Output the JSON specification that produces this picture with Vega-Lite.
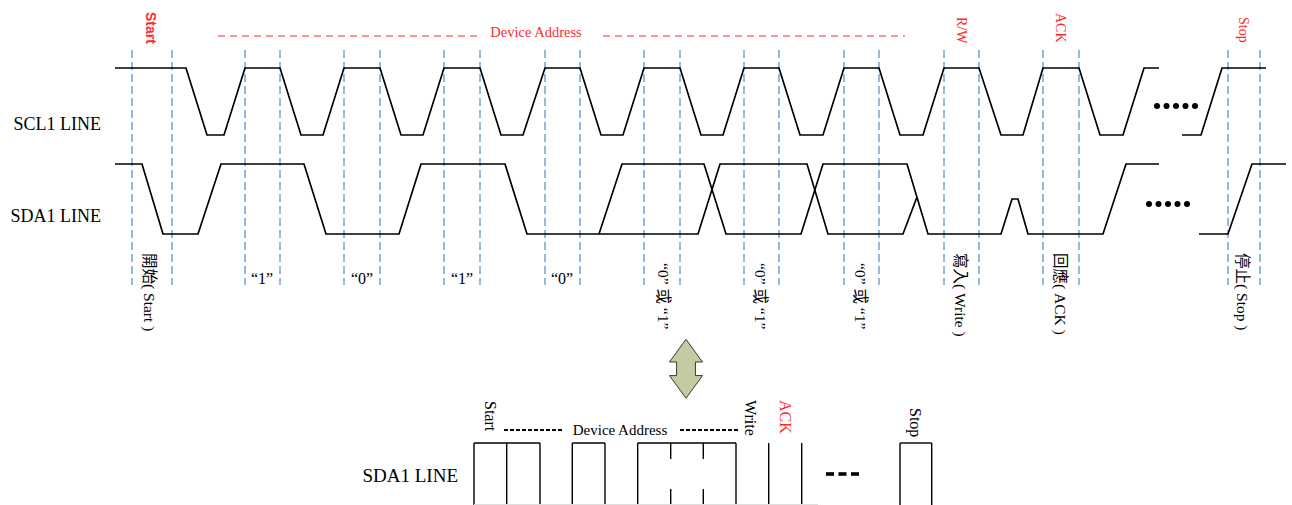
{
  "$schema": "https://vega.github.io/schema/vega-lite/v6.json",
  "width": 1292,
  "height": 505,
  "padding": 0,
  "autosize": {"type": "none"},
  "config": {"view": {"stroke": null}, "text": {"font": "Liberation Serif, Noto Sans CJK TC"}},
  "datasets": {
    "scl": [
      {"s":"a","i":0,"x":115,"y":68},{"s":"a","i":1,"x":186,"y":68},{"s":"a","i":2,"x":207,"y":135},{"s":"a","i":3,"x":224,"y":135},
      {"s":"a","i":4,"x":245,"y":68},{"s":"a","i":5,"x":280,"y":68},{"s":"a","i":6,"x":301,"y":135},{"s":"a","i":7,"x":323,"y":135},
      {"s":"a","i":8,"x":344,"y":68},{"s":"a","i":9,"x":380,"y":68},{"s":"a","i":10,"x":401,"y":135},{"s":"a","i":11,"x":423,"y":135},
      {"s":"a","i":12,"x":444,"y":68},{"s":"a","i":13,"x":480,"y":68},{"s":"a","i":14,"x":501,"y":135},{"s":"a","i":15,"x":523,"y":135},
      {"s":"a","i":16,"x":545,"y":68},{"s":"a","i":17,"x":580,"y":68},{"s":"a","i":18,"x":601,"y":135},{"s":"a","i":19,"x":623,"y":135},
      {"s":"a","i":20,"x":644,"y":68},{"s":"a","i":21,"x":680,"y":68},{"s":"a","i":22,"x":701,"y":135},{"s":"a","i":23,"x":723,"y":135},
      {"s":"a","i":24,"x":744,"y":68},{"s":"a","i":25,"x":779,"y":68},{"s":"a","i":26,"x":800,"y":135},{"s":"a","i":27,"x":823,"y":135},
      {"s":"a","i":28,"x":844,"y":68},{"s":"a","i":29,"x":879,"y":68},{"s":"a","i":30,"x":900,"y":135},{"s":"a","i":31,"x":923,"y":135},
      {"s":"a","i":32,"x":944,"y":68},{"s":"a","i":33,"x":979,"y":68},{"s":"a","i":34,"x":1001,"y":135},{"s":"a","i":35,"x":1023,"y":135},
      {"s":"a","i":36,"x":1043,"y":68},{"s":"a","i":37,"x":1079,"y":68},{"s":"a","i":38,"x":1100,"y":135},{"s":"a","i":39,"x":1123,"y":135},
      {"s":"a","i":40,"x":1144,"y":68},{"s":"a","i":41,"x":1159,"y":68},
      {"s":"b","i":0,"x":1182,"y":135},{"s":"b","i":1,"x":1201,"y":135},{"s":"b","i":2,"x":1222,"y":68},{"s":"b","i":3,"x":1266,"y":68}
    ],
    "sda": [
      {"s":"a","i":0,"x":115,"y":164},{"s":"a","i":1,"x":142,"y":164},{"s":"a","i":2,"x":163,"y":234},{"s":"a","i":3,"x":198,"y":234},
      {"s":"a","i":4,"x":221,"y":164},{"s":"a","i":5,"x":304,"y":164},{"s":"a","i":6,"x":326,"y":234},{"s":"a","i":7,"x":399,"y":234},
      {"s":"a","i":8,"x":421,"y":164},{"s":"a","i":9,"x":505,"y":164},{"s":"a","i":10,"x":527,"y":234},{"s":"a","i":11,"x":599,"y":234},
      {"s":"a","i":12,"x":622,"y":164},{"s":"a","i":13,"x":704,"y":164},{"s":"a","i":14,"x":726,"y":234},{"s":"a","i":15,"x":801,"y":234},
      {"s":"a","i":16,"x":823,"y":164},{"s":"a","i":17,"x":907,"y":164},{"s":"a","i":18,"x":928,"y":234},{"s":"a","i":19,"x":1001,"y":234},
      {"s":"a","i":20,"x":1012,"y":199},{"s":"a","i":21,"x":1018,"y":199},{"s":"a","i":22,"x":1028,"y":234},{"s":"a","i":23,"x":1103,"y":234},
      {"s":"a","i":24,"x":1126,"y":164},{"s":"a","i":25,"x":1159,"y":164},
      {"s":"b","i":0,"x":599,"y":234},{"s":"b","i":1,"x":698,"y":234},{"s":"b","i":2,"x":720,"y":164},{"s":"b","i":3,"x":807,"y":164},
      {"s":"b","i":4,"x":828,"y":234},{"s":"b","i":5,"x":903,"y":234},{"s":"b","i":6,"x":917,"y":197},
      {"s":"c","i":0,"x":1199,"y":234},{"s":"c","i":1,"x":1228,"y":234},{"s":"c","i":2,"x":1252,"y":164},{"s":"c","i":3,"x":1286,"y":164}
    ],
    "guides": [
      {"x":132},{"x":172},{"x":245},{"x":280},{"x":344},{"x":380},{"x":444},{"x":480},{"x":545},{"x":580},
      {"x":644},{"x":680},{"x":744},{"x":779},{"x":844},{"x":879},{"x":944},{"x":979},{"x":1043},{"x":1079},
      {"x":1228},{"x":1260}
    ],
    "dots": [
      {"x":1157,"y":106},{"x":1166.5,"y":106},{"x":1176,"y":106},{"x":1185.5,"y":106},{"x":1195,"y":106},
      {"x":1149,"y":204},{"x":1158.5,"y":204},{"x":1168,"y":204},{"x":1177.5,"y":204},{"x":1187,"y":204}
    ],
    "boxV": [
      {"x":474,"y":443,"y2":505},{"x":506.7,"y":443,"y2":505},{"x":540,"y":443,"y2":505},
      {"x":572.3,"y":443,"y2":505},{"x":605,"y":443,"y2":505},
      {"x":637.7,"y":443,"y2":505},{"x":670.7,"y":443,"y2":459},{"x":670.7,"y":489,"y2":505},
      {"x":703.3,"y":443,"y2":459},{"x":703.3,"y":489,"y2":505},{"x":736,"y":443,"y2":505},
      {"x":768.7,"y":443,"y2":505},{"x":801.7,"y":443,"y2":505},
      {"x":900,"y":443,"y2":505},{"x":931.7,"y":443,"y2":505}
    ],
    "boxH": [
      {"x":474,"x2":540,"y":443},{"x":572.3,"x2":605,"y":443},{"x":637.7,"x2":736,"y":443},{"x":900,"x2":931.7,"y":443}
    ]
  },
  "layer": [
    {
      "data": {"name": "guides"},
      "mark": {"type": "rule", "color": "#6b9bd6", "strokeWidth": 1.4, "strokeDash": [8, 4]},
      "encoding": {
        "x": {"field": "x", "type": "quantitative", "scale": {"domain": [0, 1292], "nice": false, "zero": false}, "axis": null},
        "y": {"datum": 50, "type": "quantitative", "scale": {"domain": [505, 0], "nice": false, "zero": false}, "axis": null},
        "y2": {"datum": 285}
      }
    },
    {
      "data": {"name": "scl"},
      "mark": {"type": "line", "color": "#000000", "strokeWidth": 1.7},
      "encoding": {
        "x": {"field": "x", "type": "quantitative", "scale": {"domain": [0, 1292], "nice": false, "zero": false}, "axis": null},
        "y": {"field": "y", "type": "quantitative", "scale": {"domain": [505, 0], "nice": false, "zero": false}, "axis": null},
        "detail": {"field": "s"},
        "order": {"field": "i", "type": "quantitative"}
      }
    },
    {
      "data": {"name": "sda"},
      "mark": {"type": "line", "color": "#000000", "strokeWidth": 1.7},
      "encoding": {
        "x": {"field": "x", "type": "quantitative"},
        "y": {"field": "y", "type": "quantitative"},
        "detail": {"field": "s"},
        "order": {"field": "i", "type": "quantitative"}
      }
    },
    {
      "data": {"name": "dots"},
      "mark": {"type": "point", "shape": "circle", "filled": true, "color": "#000000", "size": 36, "opacity": 1},
      "encoding": {
        "x": {"field": "x", "type": "quantitative"},
        "y": {"field": "y", "type": "quantitative"}
      }
    },
    {
      "data": {"values": [{"x": 218, "x2": 478, "y": 36}, {"x": 603, "x2": 905, "y": 36}]},
      "mark": {"type": "rule", "color": "#ff2a2a", "strokeWidth": 1.2, "strokeDash": [7, 5]},
      "encoding": {
        "x": {"field": "x", "type": "quantitative"},
        "x2": {"field": "x2"},
        "y": {"field": "y", "type": "quantitative"}
      }
    },
    {
      "data": {"values": [{"x": 536, "y": 33, "t": "Device Address"}]},
      "mark": {"type": "text", "color": "#ff2a2a", "fontSize": 14.5, "align": "center", "baseline": "middle"},
      "encoding": {
        "x": {"field": "x", "type": "quantitative"},
        "y": {"field": "y", "type": "quantitative"},
        "text": {"field": "t"}
      }
    },
    {
      "data": {"values": [{"x": 150, "y": 12, "t": "Start"}]},
      "mark": {"type": "text", "color": "#ff2a2a", "font": "Liberation Sans", "fontWeight": "bold", "fontSize": 14, "angle": 90, "align": "left", "baseline": "middle"},
      "encoding": {
        "x": {"field": "x", "type": "quantitative"},
        "y": {"field": "y", "type": "quantitative"},
        "text": {"field": "t"}
      }
    },
    {
      "data": {"values": [{"x": 961, "y": 17, "t": "R/W"}, {"x": 1060, "y": 13, "t": "ACK"}, {"x": 1243, "y": 17, "t": "Stop"}]},
      "mark": {"type": "text", "color": "#ff2a2a", "fontSize": 14, "angle": 90, "align": "left", "baseline": "middle"},
      "encoding": {
        "x": {"field": "x", "type": "quantitative"},
        "y": {"field": "y", "type": "quantitative"},
        "text": {"field": "t"}
      }
    },
    {
      "data": {"values": [{"x": 101, "y": 125, "t": "SCL1 LINE"}, {"x": 101, "y": 217, "t": "SDA1 LINE"}]},
      "mark": {"type": "text", "color": "#000000", "fontSize": 18, "align": "right", "baseline": "middle"},
      "encoding": {
        "x": {"field": "x", "type": "quantitative"},
        "y": {"field": "y", "type": "quantitative"},
        "text": {"field": "t"}
      }
    },
    {
      "data": {"values": [{"x": 262, "y": 279, "t": "“1”"}, {"x": 362, "y": 279, "t": "“0”"}, {"x": 462, "y": 279, "t": "“1”"}, {"x": 562, "y": 279, "t": "“0”"}]},
      "mark": {"type": "text", "color": "#000000", "fontSize": 16, "align": "center", "baseline": "middle"},
      "encoding": {
        "x": {"field": "x", "type": "quantitative"},
        "y": {"field": "y", "type": "quantitative"},
        "text": {"field": "t"}
      }
    },
    {
      "data": {"values": [
        {"x": 149, "y": 253, "t": "開始( Start )"},
        {"x": 663, "y": 263, "t": "“0” 或 “1”"},
        {"x": 760, "y": 263, "t": "“0” 或 “1”"},
        {"x": 860, "y": 263, "t": "“0” 或 “1”"},
        {"x": 960, "y": 253, "t": "寫入( Write )"},
        {"x": 1060, "y": 253, "t": "回應( ACK )"},
        {"x": 1242, "y": 253, "t": "停止( Stop )"}
      ]},
      "mark": {"type": "text", "color": "#000000", "fontSize": 15.5, "angle": 90, "align": "left", "baseline": "middle"},
      "encoding": {
        "x": {"field": "x", "type": "quantitative"},
        "y": {"field": "y", "type": "quantitative"},
        "text": {"field": "t"}
      }
    },
    {
      "data": {"values": [{"x": 686, "y": 368.8}]},
      "mark": {"type": "point", "shape": "M0,-1 L0.56,-0.23 L0.32,-0.23 L0.32,0.23 L0.56,0.23 L0,1 L-0.56,0.23 L-0.32,0.23 L-0.32,-0.23 L-0.56,-0.23 Z", "filled": true, "fill": "#c5caa2", "stroke": "#3a3a30", "strokeWidth": 1, "size": 3481, "opacity": 1, "fillOpacity": 1},
      "encoding": {
        "x": {"field": "x", "type": "quantitative"},
        "y": {"field": "y", "type": "quantitative"}
      }
    },
    {
      "data": {"values": [{"x": 458, "y": 476, "t": "SDA1 LINE"}]},
      "mark": {"type": "text", "color": "#000000", "fontSize": 19, "align": "right", "baseline": "middle"},
      "encoding": {
        "x": {"field": "x", "type": "quantitative"},
        "y": {"field": "y", "type": "quantitative"},
        "text": {"field": "t"}
      }
    },
    {
      "data": {"values": [{"x": 490, "y": 401, "t": "Start"}, {"x": 750, "y": 400, "t": "Write"}, {"x": 915, "y": 408, "t": "Stop"}]},
      "mark": {"type": "text", "color": "#000000", "fontSize": 16, "angle": 90, "align": "left", "baseline": "middle"},
      "encoding": {
        "x": {"field": "x", "type": "quantitative"},
        "y": {"field": "y", "type": "quantitative"},
        "text": {"field": "t"}
      }
    },
    {
      "data": {"values": [{"x": 785, "y": 400, "t": "ACK"}]},
      "mark": {"type": "text", "color": "#ff2a2a", "fontSize": 16, "angle": 90, "align": "left", "baseline": "middle"},
      "encoding": {
        "x": {"field": "x", "type": "quantitative"},
        "y": {"field": "y", "type": "quantitative"},
        "text": {"field": "t"}
      }
    },
    {
      "data": {"values": [{"x": 620, "y": 430, "t": "Device Address"}]},
      "mark": {"type": "text", "color": "#000000", "fontSize": 15, "align": "center", "baseline": "middle"},
      "encoding": {
        "x": {"field": "x", "type": "quantitative"},
        "y": {"field": "y", "type": "quantitative"},
        "text": {"field": "t"}
      }
    },
    {
      "data": {"values": [{"x": 504, "x2": 563, "y": 430}, {"x": 680, "x2": 739, "y": 430}]},
      "mark": {"type": "rule", "color": "#000000", "strokeWidth": 2, "strokeDash": [4, 2]},
      "encoding": {
        "x": {"field": "x", "type": "quantitative"},
        "x2": {"field": "x2"},
        "y": {"field": "y", "type": "quantitative"}
      }
    },
    {
      "data": {"name": "boxV"},
      "mark": {"type": "rule", "color": "#000000", "strokeWidth": 1.4},
      "encoding": {
        "x": {"field": "x", "type": "quantitative"},
        "y": {"field": "y", "type": "quantitative"},
        "y2": {"field": "y2"}
      }
    },
    {
      "data": {"name": "boxH"},
      "mark": {"type": "rule", "color": "#000000", "strokeWidth": 1.4},
      "encoding": {
        "x": {"field": "x", "type": "quantitative"},
        "x2": {"field": "x2"},
        "y": {"field": "y", "type": "quantitative"}
      }
    },
    {
      "data": {"values": [{"x": 474, "x2": 818, "y": 504.5}]},
      "mark": {"type": "rule", "color": "#dddddd", "strokeWidth": 1},
      "encoding": {
        "x": {"field": "x", "type": "quantitative"},
        "x2": {"field": "x2"},
        "y": {"field": "y", "type": "quantitative"}
      }
    },
    {
      "data": {"values": [{"x": 830, "y": 474}, {"x": 842.5, "y": 474}, {"x": 855, "y": 474}]},
      "mark": {"type": "point", "shape": "M-1,-0.45 L1,-0.45 L1,0.45 L-1,0.45 Z", "filled": true, "color": "#000000", "size": 64, "opacity": 1},
      "encoding": {
        "x": {"field": "x", "type": "quantitative"},
        "y": {"field": "y", "type": "quantitative"}
      }
    }
  ]
}
